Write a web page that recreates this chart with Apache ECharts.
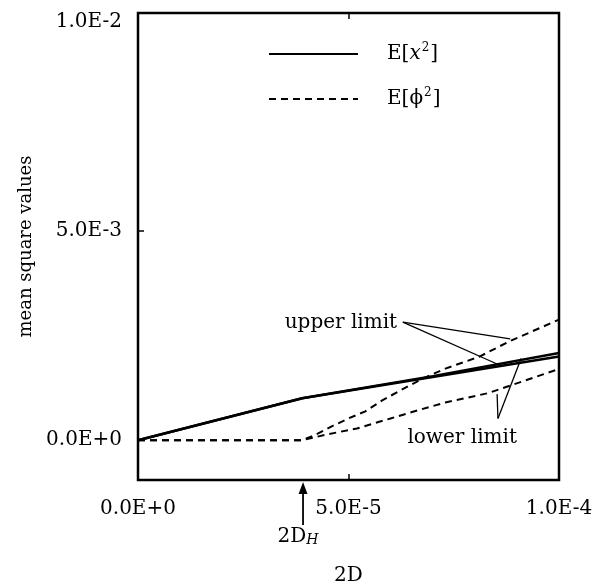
<!DOCTYPE html>
<html>
<head>
<meta charset="utf-8">
<script src="https://cdn.jsdelivr.net/npm/echarts@6/dist/echarts.min.js"></script>
<style>
  html, body { margin: 0; background: #fff; }
  #chart { width: 608px; height: 586px; }
</style>
</head>
<body>
<div id="chart"></div>
<script>
  // 2D values along the x axis
  const xLabelValues = [0, 5e-5, 1e-4];
  const yLabelValues = [0, 5e-3, 1e-2];
  const dH = 3.92e-5;

  // E[x^2], upper and lower limit (nearly on top of each other)
  const xSolidUpper = [0, 3.9e-5, 7.0e-5, 1e-4];
  const ySolidUpper = [0, 1.0e-3, 1.53e-3, 2.08e-3];
  const xSolidLower = [0, 3.9e-5, 7.0e-5, 1e-4];
  const ySolidLower = [0, 1.0e-3, 1.51e-3, 2.0e-3];

  // E[phi^2], upper and lower limit
  const xDashUpper = [0, 3.9e-5, 4.2e-5, 4.6e-5, 5.0e-5, 5.4e-5, 5.8e-5, 6.4e-5, 6.8e-5, 7.3e-5, 8.1e-5, 8.8e-5, 1e-4];
  const yDashUpper = [0, 0, 0.12e-3, 0.33e-3, 0.52e-3, 0.69e-3, 0.95e-3, 1.28e-3, 1.49e-3, 1.71e-3, 1.99e-3, 2.35e-3, 2.88e-3];
  const xDashLower = [0, 3.9e-5, 4.5e-5, 5.2e-5, 6.0e-5, 6.7e-5, 7.3e-5, 8.3e-5, 1e-4];
  const yDashLower = [0, 0, 0.14e-3, 0.28e-3, 0.52e-3, 0.73e-3, 0.9e-3, 1.12e-3, 1.7e-3];

  const font = 'DejaVu Serif';
  const chart = echarts.init(document.getElementById('chart'));

  const pairs = (xs, ys) => xs.map((x, i) => [x, ys[i]]);
  const sci = (v) => v.toExponential(1).toUpperCase();
  const leader = (a, b) => [{ coord: a }, { coord: b }];
  const tick = (values) => ({
    show: true, inside: true, length: 6, customValues: values,
    lineStyle: { color: '#000', width: 1.5 },
  });

  chart.setOption({
    animation: false,
    backgroundColor: '#fff',
    grid: {
      left: 138, right: 49, top: 13, bottom: 106,
      outerBoundsMode: 'none',
      show: true, borderColor: '#000', borderWidth: 2.5,
    },
    legend: {
      orient: 'vertical',
      left: 268,
      top: 42,
      padding: 0,
      itemWidth: 89,
      itemHeight: 20,
      itemGap: 21,
      itemStyle: { opacity: 0 },
      data: ['E[x2]', 'E[phi2]'],
      formatter: (name) => name === 'E[x2]'
        ? '{b|E[}{i|x}{s|2}{b|]}'
        : '{b|E[}{p|ϕ}{s|2}{b|]}',
      textStyle: {
        padding: [0, 0, 0, 24],
        rich: {
          b: { fontFamily: font, fontSize: 20, color: '#000', lineHeight: 20 },
          i: { fontFamily: font, fontSize: 20, fontStyle: 'italic', color: '#000', lineHeight: 20 },
          p: { fontFamily: font, fontSize: 20, color: '#000', lineHeight: 20 },
          s: { fontFamily: font, fontSize: 12, color: '#000', lineHeight: 20, padding: [0, 1, 12, 1] },
        },
      },
    },
    xAxis: [
      {
        type: 'value', min: 0, max: 1e-4,
        name: '2D', nameLocation: 'middle', nameGap: 86,
        nameTextStyle: { fontFamily: font, fontSize: 20, color: '#000' },
        axisLine: { show: false, onZero: false },
        splitLine: { show: false },
        axisTick: tick([5e-5]),
        axisLabel: {
          customValues: xLabelValues, margin: 19,
          fontFamily: font, fontSize: 20, color: '#000',
          formatter: sci,
        },
      },
      {
        type: 'value', min: 0, max: 1e-4, position: 'top',
        axisLine: { show: false, onZero: false },
        splitLine: { show: false },
        axisLabel: { show: false },
        axisTick: tick([5e-5]),
      },
    ],
    yAxis: {
      type: 'value', min: -0.00095, max: 0.0102,
      name: 'mean square values', nameLocation: 'middle', nameGap: 96,
      nameTextStyle: { fontFamily: font, fontSize: 18, color: '#000' },
      axisLine: { show: false, onZero: false },
      splitLine: { show: false },
      axisTick: tick([5e-3]),
      axisLabel: {
        customValues: yLabelValues, margin: 16,
        fontFamily: font, fontSize: 20, color: '#000',
        formatter: sci,
      },
    },
    series: [
      {
        name: 'E[x2]', type: 'line', symbol: 'none',
        data: pairs(xSolidUpper, ySolidUpper),
        itemStyle: { color: '#000' },
        lineStyle: { color: '#000', width: 2.5 },
        markLine: {
          silent: true, symbol: 'none', label: { show: false },
          lineStyle: { color: '#000', width: 1.3, type: 'solid' },
          data: [
            leader([6.29e-5, 2.82e-3], [8.84e-5, 2.42e-3]),
            leader([6.29e-5, 2.82e-3], [8.53e-5, 1.82e-3]),
            leader([8.55e-5, 0.52e-3], [8.53e-5, 1.1e-3]),
            leader([8.55e-5, 0.52e-3], [9.1e-5, 1.95e-3]),
          ],
        },
      },
      {
        name: 'E[x2] lower', type: 'line', symbol: 'none',
        data: pairs(xSolidLower, ySolidLower),
        itemStyle: { color: '#000' },
        lineStyle: { color: '#000', width: 2.5 },
      },
      {
        name: 'E[phi2]', type: 'line', symbol: 'none',
        data: pairs(xDashUpper, yDashUpper),
        itemStyle: { color: '#000' },
        lineStyle: { color: '#000', width: 2, type: [7, 5] },
      },
      {
        name: 'E[phi2] lower', type: 'line', symbol: 'none',
        data: pairs(xDashLower, yDashLower),
        itemStyle: { color: '#000' },
        lineStyle: { color: '#000', width: 2, type: [7, 5] },
      },
    ],
  });

  // annotations placed from data coordinates
  const toPx = (p) => chart.convertToPixel({ xAxisIndex: 0, yAxisIndex: 0 }, p);
  const upperAt = toPx([6.25e-5, 2.8e-3]);
  const lowerAt = toPx([7.7e-5, 0.05e-3]);
  const arrowX = toPx([dH, 0])[0];
  const axisBottom = toPx([0, -0.00095])[1];

  chart.setOption({
    graphic: [
      {
        type: 'text', x: upperAt[0] - 4, y: upperAt[1],
        style: { text: 'upper limit', font: '20px "DejaVu Serif"', fill: '#000', align: 'right', verticalAlign: 'middle' },
      },
      {
        type: 'text', x: lowerAt[0], y: lowerAt[1],
        style: { text: 'lower limit', font: '20px "DejaVu Serif"', fill: '#000', align: 'center', verticalAlign: 'middle' },
      },
      {
        type: 'line', shape: { x1: arrowX, y1: axisBottom + 45, x2: arrowX, y2: axisBottom + 6 },
        style: { stroke: '#000', lineWidth: 1.8 },
      },
      {
        type: 'polygon',
        shape: { points: [[arrowX, axisBottom + 2], [arrowX - 4.5, axisBottom + 14], [arrowX + 4.5, axisBottom + 14]] },
        style: { fill: '#000' },
      },
      {
        type: 'text', x: arrowX - 5, y: axisBottom + 57,
        style: {
          text: '{a|2D}{h|H}',
          align: 'center', verticalAlign: 'middle',
          rich: {
            a: { fontFamily: font, fontSize: 20, fill: '#000' },
            h: { fontFamily: font, fontSize: 14, fontStyle: 'italic', fill: '#000', padding: [6, 0, 0, 0] },
          },
        },
      },
    ],
  });
</script>
</body>
</html>
